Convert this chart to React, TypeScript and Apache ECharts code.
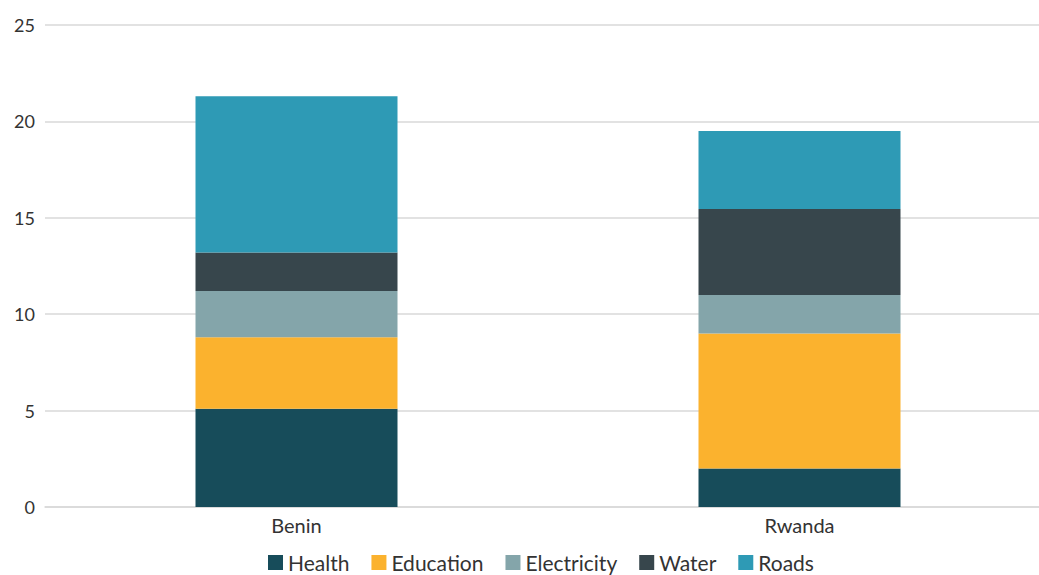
import React, { useEffect, useRef } from "react";
import * as echarts from "echarts";

const categories = ["Benin", "Rwanda"];
const seriesNames = ["Health", "Education", "Electricity", "Water", "Roads"];
const health = [5.1, 2.0];
const education = [3.7, 7.0];
const electricity = [2.4, 2.0];
const water = [2.0, 4.45];
const roads = [8.1, 4.05];
const colors = ["#174C5A", "#FBB22E", "#84A5AA", "#37464C", "#2E9AB5"];

export default function App() {
  const ref = useRef<HTMLDivElement>(null);
  useEffect(() => {
    if (!ref.current) return;
    const chart = echarts.init(ref.current, undefined, { renderer: "svg" });
    const values = [health, education, electricity, water, roads];
    chart.setOption({
      animation: false,
      textStyle: { fontFamily: "Lato, sans-serif" },
      grid: { left: 45, right: 0, top: 25, bottom: 68 },
      legend: {
        top: 552,
        left: 268,
        padding: 0,
        itemWidth: 15,
        itemHeight: 15,
        itemGap: 22,
        icon: "rect",
        textStyle: { fontSize: 21, lineHeight: 21, color: "#333", fontFamily: "Lato, sans-serif" },
        data: seriesNames,
      },
      xAxis: {
        type: "category",
        data: categories,
        axisLine: { show: true, lineStyle: { color: "#d9d9d9", width: 1.5 } },
        axisTick: { show: false },
        axisLabel: { fontSize: 20, color: "#333", margin: 8 },
      },
      yAxis: {
        type: "value",
        min: 0,
        max: 25,
        interval: 5,
        axisLine: { show: false },
        axisTick: { show: false },
        splitLine: { lineStyle: { color: "#d9d9d9", width: 1.5 } },
        axisLabel: { fontSize: 18, color: "#333", margin: 10 },
      },
      series: seriesNames.map((name, i) => ({
        name,
        type: "bar",
        stack: "total",
        barWidth: 202,
        data: values[i],
        itemStyle: { color: colors[i] },
      })),
    });
    return () => chart.dispose();
  }, []);
  return (
    <div style={{ width: 1039, height: 575, position: "absolute", left: 0, top: 0, overflow: "hidden" }}>
      <div ref={ref} style={{ width: 1051, height: 575 }} />
    </div>
  );
}
